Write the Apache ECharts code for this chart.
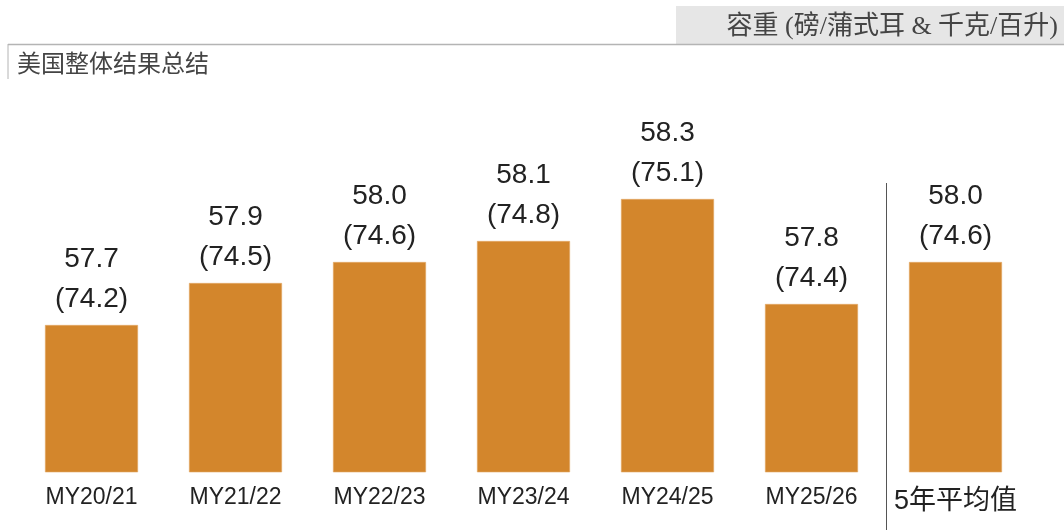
<!DOCTYPE html>
<html><head><meta charset="utf-8">
<script src="https://cdn.jsdelivr.net/npm/echarts@6/dist/echarts.min.js"></script>
<style>html,body{margin:0;padding:0;background:#fff}#c{width:1064px;height:530px}</style>
</head><body><div id="c"></div>
<script>
const categories = ['MY20/21','MY21/22','MY22/23','MY23/24','MY24/25','MY25/26','5年平均值'];
const lbBu = [57.7, 57.9, 58.0, 58.1, 58.3, 57.8, 58.0];
const kgHl = ['74.2','74.5','74.6','74.8','75.1','74.4','74.6'];
const titleText = '美国整体结果总结';
const unitText = '容重 (磅/蒲式耳 & 千克/百升)';

const chart = echarts.init(document.getElementById('c'));
chart.setOption({
  animation: false,
  grid: {left: 19.5, right: 36.5, top: 136, bottom: 58},
  xAxis: {
    type: 'category', data: categories,
    axisLine: {show: false}, axisTick: {show: false},
    axisLabel: {
      margin: 14, color: '#222', fontFamily: '"Liberation Sans", Arial, sans-serif', fontSize: 23,
      interval: 0,
      formatter: function (v) { return v === '5年平均值' ? '{avg|' + v + '}' : v; },
      rich: {avg: {fontSize: 27, color: '#222', fontFamily: '"Liberation Sans", "Noto Sans CJK SC", sans-serif', padding: [2, 0, 0, 0]}}
    }
  },
  yAxis: {type: 'value', min: 57, max: 58.6, show: false, splitLine: {show: false}},
  series: [{
    type: 'bar', barWidth: 93,
    data: lbBu.map((v, i) => ({value: v, kg: kgHl[i]})),
    itemStyle: {color: '#D3862C', borderColor: '#E2A867', borderWidth: 0.6},
    label: {
      show: true, position: 'top', distance: 6,
      formatter: function (p) { return '{a|' + p.value.toFixed(1) + '}\n{a|(' + p.data.kg + ')}'; },
      rich: {a: {fontFamily: '"Liberation Sans Narrow", "Arial Narrow", "Liberation Sans", sans-serif', fontSize: 28, lineHeight: 40, color: '#222', align: 'center'}}
    }
  }],
  graphic: [
    {type: 'rect', shape: {x: 676, y: 6, width: 388, height: 38}, style: {fill: '#e6e6e6'}},
    {type: 'line', shape: {x1: 8, y1: 44.5, x2: 1064, y2: 44.5}, style: {stroke: '#b4b4b4', lineWidth: 1.5}},
    {type: 'line', shape: {x1: 8, y1: 44, x2: 8, y2: 79}, style: {stroke: '#b4b4b4', lineWidth: 1}},
    {type: 'text', x: 1058, y: 27, style: {text: unitText, align: 'right', verticalAlign: 'middle', fill: '#444', fontSize: 26, fontFamily: '"Liberation Serif", "Noto Sans CJK SC", serif'}},
    {type: 'text', x: 17, y: 63, style: {text: titleText, align: 'left', verticalAlign: 'middle', fill: '#444', fontSize: 24, fontFamily: '"Noto Sans CJK SC", sans-serif'}},
    {type: 'line', shape: {x1: 886.5, y1: 183, x2: 886.5, y2: 530}, style: {stroke: '#555', lineWidth: 1}}
  ]
});
</script></body></html>
